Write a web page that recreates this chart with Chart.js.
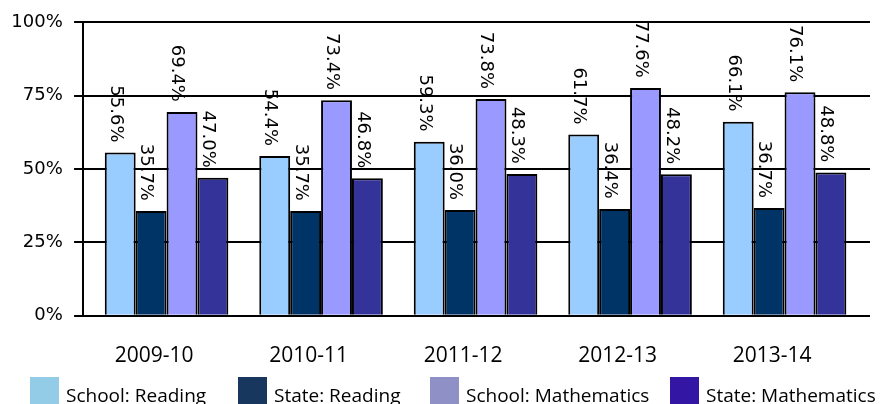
<!DOCTYPE html>
<html>
<head>
<meta charset="utf-8">
<script src="https://cdn.jsdelivr.net/npm/chart.js@4"></script>
<style>
  body { margin: 0; background: #fff; }
  #wrap { width: 894px; height: 404px; }
</style>
</head>
<body>
<div id="wrap"><canvas id="chart" width="894" height="404"></canvas></div>
<script>
const categories = ['2009-10', '2010-11', '2011-12', '2012-13', '2013-14'];
const schoolReading = [55.6, 54.4, 59.3, 61.7, 66.1];
const stateReading = [35.7, 35.7, 36.0, 36.4, 36.7];
const schoolMath = [69.4, 73.4, 73.8, 77.6, 76.1];
const stateMath = [47.0, 46.8, 48.3, 48.2, 48.8];
const yTicks = [0, 25, 50, 75, 100];

const seriesNames = ['School: Reading', 'State: Reading', 'School: Mathematics', 'State: Mathematics'];
const barColors = ['#99CCFF', '#003366', '#9999FF', '#333399'];
const legendColors = ['#93CCE6', '#17375E', '#8F90C6', '#3316A3'];

// rotated value labels above each bar
const valueLabels = {
  id: 'valueLabels',
  afterDatasetsDraw(chart) {
    const ctx = chart.ctx;
    ctx.save();
    ctx.font = '18px "DejaVu Sans"';
    ctx.fillStyle = '#000';
    ctx.textAlign = 'right';
    ctx.textBaseline = 'middle';
    chart.data.datasets.forEach((ds, di) => {
      chart.getDatasetMeta(di).data.forEach((bar, i) => {
        ctx.save();
        ctx.translate(bar.x - 5, bar.y - 10);
        ctx.rotate(Math.PI / 2);
        ctx.fillText(ds.data[i].y.toFixed(1) + '%', 0, 0);
        ctx.restore();
      });
    });
    ctx.restore();
  }
};

// legend drawn along the bottom edge
const bottomLegend = {
  id: 'bottomLegend',
  afterDraw(chart) {
    const ctx = chart.ctx;
    const boxX = [30, 238, 430, 670];
    ctx.save();
    ctx.font = '19px "Open Sans"';
    ctx.textAlign = 'left';
    ctx.textBaseline = 'alphabetic';
    seriesNames.forEach((name, i) => {
      ctx.fillStyle = legendColors[i];
      ctx.fillRect(boxX[i], 377, 29, 28);
      ctx.fillStyle = '#000';
      ctx.fillText(name, boxX[i] + 36, 402);
    });
    ctx.restore();
  }
};

const seriesValues = [schoolReading, stateReading, schoolMath, stateMath];

new Chart(document.getElementById('chart'), {
  type: 'bar',
  data: {
    datasets: seriesValues.map((vals, k) => ({
      label: seriesNames[k],
      data: vals.map((v, i) => ({ x: i, y: v })),
      backgroundColor: barColors[k],
      borderColor: '#000',
      borderWidth: 2,
      categoryPercentage: 0.8,
      barPercentage: 1.0
    }))
  },
  options: {
    responsive: false,
    animation: false,
    layout: { padding: { left: 0, right: 24, top: 1, bottom: 7 } },
    plugins: {
      legend: { display: false },
      tooltip: { enabled: false }
    },
    scales: {
      x: {
        type: 'linear',
        offset: false,
        min: -0.5405,
        max: 4.553,
        afterBuildTicks: (axis) => { axis.ticks = categories.map((c, i) => ({ value: i })); },
        grid: { display: false, drawTicks: false },
        border: { display: false },
        ticks: {
          callback: (v) => categories[v],
          font: { family: 'Open Sans', size: 21 },
          color: '#000',
          padding: 28,
          labelOffset: -12.5,
          maxRotation: 0,
          autoSkip: false
        }
      },
      y: {
        min: 0,
        max: 100,
        afterBuildTicks: (axis) => { axis.ticks = yTicks.map(v => ({ value: v })); },
        grid: { color: '#000', lineWidth: 2, tickLength: 9, tickColor: '#000' },
        border: { color: '#000', width: 2 },
        ticks: {
          callback: (v) => v + '%',
          font: { family: 'DejaVu Sans', size: 18 },
          color: '#000',
          padding: 11.3
        }
      }
    }
  },
  plugins: [valueLabels, bottomLegend]
});
</script>
</body>
</html>
